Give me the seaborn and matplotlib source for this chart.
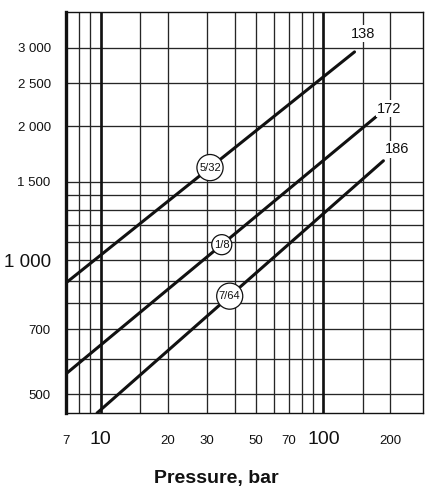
import numpy as np
import pandas as pd
import matplotlib
matplotlib.use("Agg")
import matplotlib.pyplot as plt
from matplotlib.ticker import NullLocator, FixedLocator
import seaborn as sns

# ---------------- data ----------------
line_labels = ["138", "172", "186"]
orifice_labels = ["5/32", "1/8", "7/64"]
pressure_start = [7, 7, 9.65]
pressure_end = [138, 172, 186]
flow_start = [890, 556, 454]
flow_end = [2940, 2100, 1674]
orifice_label_pressure = [31, 35, 38]

x_grid = [7, 8, 9, 10, 15, 20, 30, 40, 50, 60, 70, 80, 90, 100, 150, 200]
x_tick_values = [7, 10, 20, 30, 50, 70, 100, 200]
x_tick_labels = ["7", "10", "20", "30", "50", "70", "100", "200"]
x_big = ["10", "100"]
x_major_lines = [10, 100]
y_grid = [500, 600, 700, 800, 900, 1000, 1100, 1200, 1300, 1400, 1500, 2000, 2500, 3000]
y_tick_values = [500, 700, 1000, 1500, 2000, 2500, 3000]
y_tick_labels = ["500", "700", "1 000", "1 500", "2 000", "2 500", "3 000"]
y_big = ["1 000"]
x_limits = (7, 280)
y_limits = (454, 3614)
x_title = "Pressure, bar"

# ---------------- style ----------------
sns.set_theme(style="white")
plain = ["Liberation Sans", "DejaVu Sans"]
plt.rcParams["font.family"] = plain
end_label_offsets = [(6.0, 13.0), (9.6, 6.0), (9.6, 8.2)]
ink = "#111111"
grid_color = "#262626"

df = pd.DataFrame({
    "series": [s for s in line_labels for _ in range(2)],
    "pressure": [p for pair in zip(pressure_start, pressure_end) for p in pair],
    "flow": [f for pair in zip(flow_start, flow_end) for f in pair],
})

fig = plt.figure(figsize=(4.26, 4.92), dpi=100)
ax = fig.add_axes([66 / 426, (492 - 413) / 492, 357 / 426, 401 / 492])
ax.set_xscale("log")
ax.set_yscale("log")

sns.lineplot(data=df, x="pressure", y="flow", hue="series",
             palette=[ink] * len(line_labels), legend=False,
             estimator=None, sort=False, linewidth=2.2, ax=ax, zorder=3)

ax.set_xlim(*x_limits)
ax.set_ylim(*y_limits)

# grid
ax.xaxis.set_major_locator(FixedLocator(x_grid))
ax.yaxis.set_major_locator(FixedLocator(y_grid))
ax.xaxis.set_minor_locator(NullLocator())
ax.yaxis.set_minor_locator(NullLocator())
ax.grid(True, which="major", color=grid_color, linewidth=0.95)
ax.set_axisbelow(True)
for v in x_major_lines:
    ax.axvline(v, color=ink, linewidth=1.9, zorder=1.5)

ax.tick_params(length=0)
ax.set_xticklabels([])
ylabs = [y_tick_labels[y_tick_values.index(v)] if v in y_tick_values else "" for v in y_grid]
ax.set_yticklabels(ylabs)
ax.tick_params(axis="y", pad=11)
for t in ax.get_yticklabels():
    t.set_color(ink)
    t.set_fontsize(13.5 if t.get_text() in y_big else 9.5)

for v, lab in zip(x_tick_values, x_tick_labels):
    ax.annotate(lab, xy=(v, 0), xycoords=("data", "axes fraction"),
                xytext=(0, -22.5), textcoords="offset points",
                ha="center", va="baseline", color=ink,
                fontsize=14 if lab in x_big else 9.5)

ax.set_xlabel("")
ax.set_ylabel("")
fig.text(216 / 426, 1 - 483.5 / 492, x_title, ha="center", va="baseline",
         fontsize=14, fontweight="bold", color=ink)

# spines
for side in ["top", "right", "bottom"]:
    ax.spines[side].set_color(ink)
    ax.spines[side].set_linewidth(1.0)
ax.spines["left"].set_color(ink)
ax.spines["left"].set_linewidth(2.4)

# end labels
for lab, px, fy, off in zip(line_labels, pressure_end, flow_end, end_label_offsets):
    ax.annotate(lab, xy=(px, fy), xytext=off, textcoords="offset points",
                ha="center", va="center", fontsize=10.5, color=ink,
                bbox=dict(boxstyle="square,pad=0.1", fc="white", ec="none"),
                zorder=4)

# orifice circle labels placed on their lines
for lab, p0, p1, f0, f1, pl in zip(orifice_labels, pressure_start, pressure_end,
                                   flow_start, flow_end, orifice_label_pressure):
    fl = 10 ** np.interp(np.log10(pl), [np.log10(p0), np.log10(p1)],
                         [np.log10(f0), np.log10(f1)])
    ax.text(pl, fl, lab, ha="center", va="center", fontsize=8, color=ink,
            bbox=dict(boxstyle="circle,pad=0.2", fc="white", ec=ink, lw=0.9),
            zorder=5)

fig.savefig("out.png", dpi=100, facecolor="white")
